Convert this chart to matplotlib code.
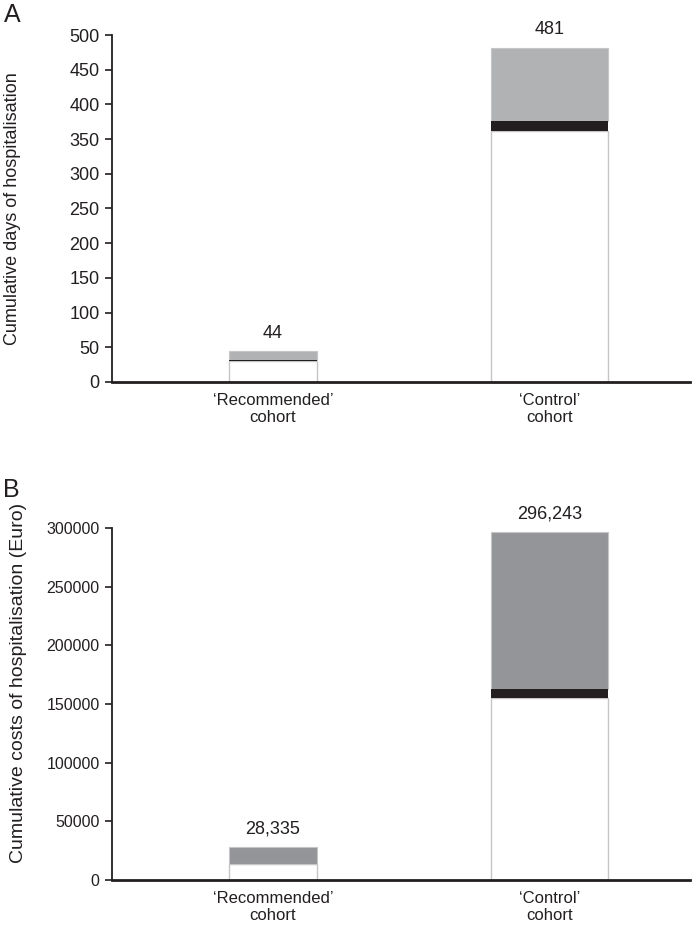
import matplotlib
matplotlib.use('Agg')
import matplotlib.pyplot as plt

# DATA
cohorts = ["\u2018Recommended\u2019\ncohort", "\u2018Control\u2019\ncohort"]

days_white = [30, 362]
days_black = [2, 14]
days_grey = [12, 105]
days_total = ["44", "481"]

cost_white = [14000, 155000]
cost_black = [0, 8000]
cost_grey = [14335, 133243]
cost_total = ["28,335", "296,243"]

# LAYOUT
bar_left = [0.2024, 0.6557]
bar_width = [0.152, 0.2024]
EDGE = '#c6c6c6'
DARK = '#231f20'

plt.rcParams['font.family'] = ['Liberation Sans', 'DejaVu Sans']

fig = plt.figure(figsize=(6.96, 9.31), dpi=100)
ax_a = fig.add_axes([0.161, 0.5897, 0.830, 0.3727])
ax_b = fig.add_axes([0.161, 0.0548, 0.830, 0.3781])


def draw_panel(ax, white, black, grey, totals, grey_color, ymax, ystep, tick_fs,
               ylabel, label_fs, label_xy):
    bottoms_b = white
    bottoms_g = [w + b for w, b in zip(white, black)]
    ax.bar(bar_left, white, width=bar_width, align='edge', color='white',
           edgecolor=EDGE, linewidth=1.0, zorder=2)
    ax.bar(bar_left, black, width=bar_width, bottom=bottoms_b, align='edge',
           color=DARK, edgecolor='none', linewidth=0, zorder=3)
    ax.bar(bar_left, grey, width=bar_width, bottom=bottoms_g, align='edge',
           color=grey_color, edgecolor=EDGE, linewidth=0.8, zorder=2)
    for i, t in enumerate(totals):
        top = white[i] + black[i] + grey[i]
        ax.annotate(t, (bar_left[i] + bar_width[i] / 2, top), xytext=(0, 7),
                    textcoords='offset points', ha='center', va='bottom',
                    fontsize=13, color=DARK)
    ax.set_xlim(0, 1)
    ax.set_ylim(0, ymax)
    ax.set_yticks(range(0, ymax + 1, ystep))
    ax.set_xticks([l + w / 2 for l, w in zip(bar_left, bar_width)])
    ax.set_xticklabels(cohorts, fontsize=12, color=DARK, linespacing=1.15)
    ax.tick_params(axis='x', length=0, pad=8)
    ax.tick_params(axis='y', direction='out', length=5, width=1.2, color=DARK,
                   labelsize=tick_fs, labelcolor=DARK, pad=4)
    for s in ['top', 'right']:
        ax.spines[s].set_visible(False)
    ax.spines['left'].set_linewidth(1.3)
    ax.spines['left'].set_color(DARK)
    ax.spines['bottom'].set_linewidth(2.0)
    ax.spines['bottom'].set_color(DARK)
    ax.set_ylabel(ylabel, fontsize=label_fs, color=DARK)
    ax.yaxis.set_label_coords(*label_xy)


draw_panel(ax_a, days_white, days_black, days_grey, days_total, '#b1b2b4',
           500, 50, 13, 'Cumulative days of hospitalisation', 13, (-0.158, 0.5))
draw_panel(ax_b, cost_white, cost_black, cost_grey, cost_total, '#939598',
           300000, 50000, 11.5, 'Cumulative costs of hospitalisation (Euro)', 14, (-0.148, 0.56))

fig.text(0.005, 0.984, 'A', fontsize=18, color=DARK, va='center')
fig.text(0.005, 0.474, 'B', fontsize=18, color=DARK, va='center')

fig.savefig('out.png', dpi=100)
